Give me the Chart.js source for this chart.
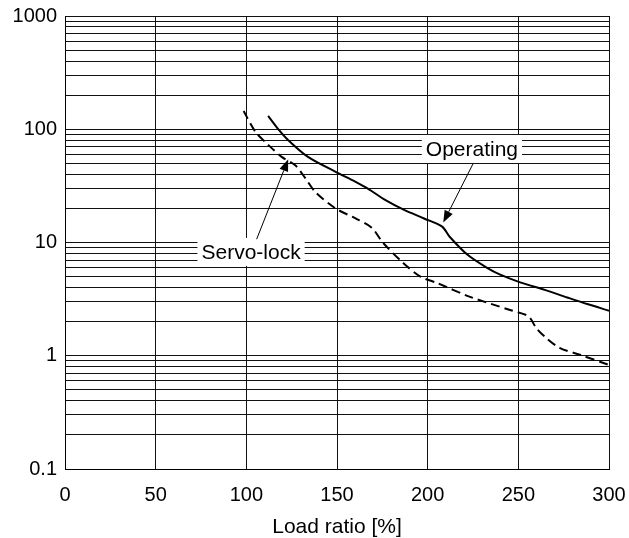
<!DOCTYPE html>
<html>
<head>
<meta charset="utf-8">
<script src="https://cdn.jsdelivr.net/npm/chart.js@4/dist/chart.umd.min.js"></script>
<style>
  html, body { margin: 0; padding: 0; background: #fff; }
  #wrap { width: 629px; height: 538px; }
</style>
</head>
<body>
<div id="wrap"><canvas id="c" width="629" height="538"></canvas></div>
<script>
// ---- data ----
const xTickLabels = [0, 50, 100, 150, 200, 250, 300];
const yTickLabels = [0.1, 1, 10, 100, 1000];

const operatingX = [112, 117, 123, 134, 149, 160, 167, 177, 187, 198, 208, 212, 222, 233, 240, 251, 265, 277, 288, 300];
const operatingY = [131, 103, 80.5, 57, 42.3, 34.5, 29.9, 23.5, 19.4, 16.3, 13.8, 11.3, 7.78, 5.94, 5.2, 4.45, 3.8, 3.27, 2.86, 2.5];

const servoX = [98.5, 105, 112, 119.5, 127, 132.5, 138, 149, 160, 169, 175.5, 186.5, 196, 205, 223, 245, 254, 256.5, 260, 265.5, 273, 284, 300];
const servoY = [145, 95, 73, 57, 48, 37, 28, 20.1, 16.4, 13.6, 9.9, 6.6, 5.0, 4.4, 3.33, 2.55, 2.3, 2.15, 1.75, 1.43, 1.17, 1.02, 0.83];

const seriesNames = ['Operating', 'Servo-lock'];

// label text positions (data coords) and arrow start/tip (data coords)
const labelOperating = { x: 224.4, y: 67 };
const labelServo = { x: 102.6, y: 8.26 };
const arrowOperating = { from: { x: 225.2, y: 50.2 }, to: { x: 208.6, y: 15.0 } };
const arrowServo = { from: { x: 105.7, y: 10.7 }, to: { x: 123.1, y: 54.4 } };

// gridlines for the log axis: 1..9 of each decade
const yGrid = [];
for (let i = 0; i < yTickLabels.length; i++) {
  const d = yTickLabels[i];
  if (i === yTickLabels.length - 1) { yGrid.push(d); break; }
  for (let m = 1; m <= 9; m++) yGrid.push(+(d * m).toPrecision(6));
}

const FONT = "'Liberation Sans', Arial, sans-serif";

const annot = {
  id: 'annot',
  afterDatasetsDraw(chart) {
    const ctx = chart.ctx;
    const xs = chart.scales.x, ys = chart.scales.y;
    const P = (p) => ({ x: xs.getPixelForValue(p.x), y: ys.getPixelForValue(p.y) });
    ctx.save();
    ctx.font = '21px ' + FONT;
    ctx.textAlign = 'center';
    ctx.textBaseline = 'middle';
    const drawLabel = (text, pos) => {
      const p = P(pos);
      const w = ctx.measureText(text).width + 8;
      const h = 28;
      ctx.fillStyle = '#fff';
      ctx.fillRect(p.x - w / 2, p.y - h / 2, w, h);
      ctx.fillStyle = '#000';
      ctx.fillText(text, p.x, p.y + 1);
    };
    const drawArrow = (a) => {
      const s = P(a.from), t = P(a.to);
      const ang = Math.atan2(t.y - s.y, t.x - s.x);
      const L = 12, W = 4.5;
      const bx = t.x - L * Math.cos(ang), by = t.y - L * Math.sin(ang);
      ctx.strokeStyle = '#000';
      ctx.lineWidth = 1;
      ctx.beginPath();
      ctx.moveTo(s.x, s.y);
      ctx.lineTo(bx, by);
      ctx.stroke();
      ctx.fillStyle = '#000';
      ctx.beginPath();
      ctx.moveTo(t.x, t.y);
      ctx.lineTo(bx + W * Math.sin(ang), by - W * Math.cos(ang));
      ctx.lineTo(bx - W * Math.sin(ang), by + W * Math.cos(ang));
      ctx.closePath();
      ctx.fill();
    };
    drawLabel(seriesNames[0], labelOperating);
    drawLabel(seriesNames[1], labelServo);
    drawArrow(arrowOperating);
    drawArrow(arrowServo);
    ctx.restore();
  }
};

const toPts = (xa, ya) => xa.map((x, i) => ({ x: x, y: ya[i] }));

new Chart(document.getElementById('c'), {
  type: 'line',
  data: {
    datasets: [
      {
        label: seriesNames[0],
        data: toPts(operatingX, operatingY),
        borderColor: '#000',
        borderWidth: 2,
        pointRadius: 0,
        fill: false,
        tension: 0.3
      },
      {
        label: seriesNames[1],
        data: toPts(servoX, servoY),
        borderColor: '#000',
        borderWidth: 2,
        borderDash: [9, 5],
        pointRadius: 0,
        fill: false,
        tension: 0.3
      }
    ]
  },
  options: {
    responsive: false,
    devicePixelRatio: 1,
    animation: false,
    layout: { padding: { top: 16, right: 20, left: 0, bottom: 0 } },
    plugins: { legend: { display: false }, tooltip: { enabled: false } },
    scales: {
      x: {
        type: 'linear',
        min: xTickLabels[0],
        max: xTickLabels[xTickLabels.length - 1],
        afterBuildTicks: (s) => { s.ticks = xTickLabels.map(v => ({ value: v })); },
        afterFit: (s) => { s.height = 69; s.paddingLeft = 0; s.paddingRight = 0; },
        grid: { color: '#111', lineWidth: 1, drawTicks: false },
        border: { color: '#000', width: 1 },
        ticks: { color: '#000', font: { family: FONT, size: 20 }, padding: 14, maxRotation: 0, autoSkip: false },
        title: { display: true, text: 'Load ratio [%]', color: '#000', font: { family: FONT, size: 21 }, padding: { top: 0, bottom: -2 } }
      },
      y: {
        type: 'logarithmic',
        min: yTickLabels[0],
        max: yTickLabels[yTickLabels.length - 1],
        afterBuildTicks: (s) => { s.ticks = yGrid.map(v => ({ value: v })); },
        afterFit: (s) => { s.width = 65; s.paddingTop = 0; s.paddingBottom = 0; },
        grid: { color: '#111', lineWidth: 1, drawTicks: false },
        border: { color: '#000', width: 1 },
        ticks: {
          color: '#000',
          font: { family: FONT, size: 20 },
          padding: 8,
          autoSkip: false,
          callback: (v) => yTickLabels.includes(v) ? String(v) : ''
        }
      }
    }
  },
  plugins: [annot]
});
</script>
</body>
</html>
